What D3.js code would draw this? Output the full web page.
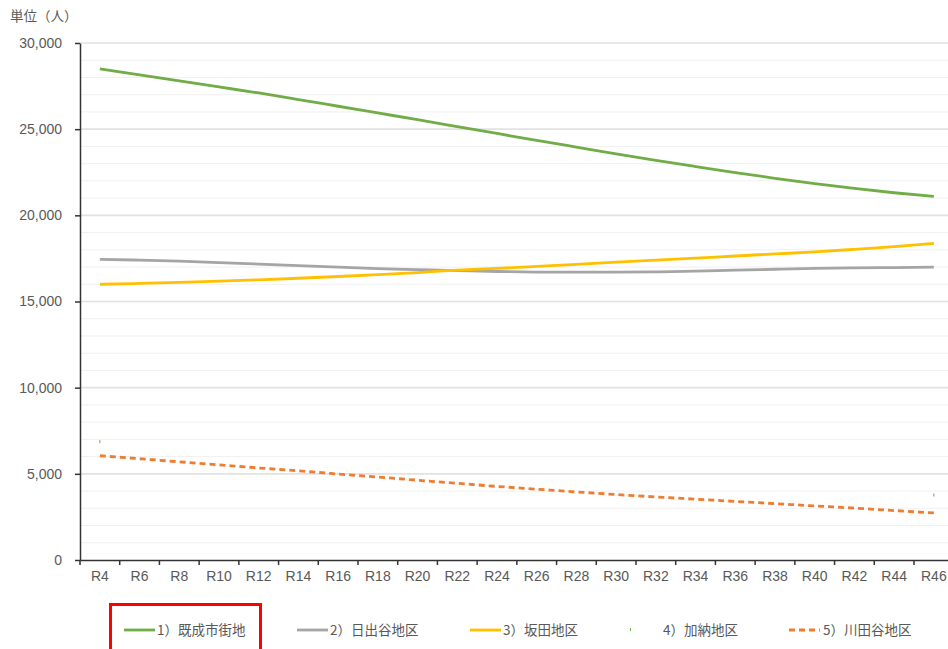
<!DOCTYPE html>
<html>
<head>
<meta charset="utf-8">
<script src="https://cdn.jsdelivr.net/npm/d3@7"></script>
<style>
  body { margin: 0; background: #fff; }
  svg { display: block; font-family: "Noto Sans CJK JP", "Noto Sans", sans-serif; }
</style>
</head>
<body>
<svg width="948" height="649"></svg>
<script>
// categories (years)
const years = ["R4","R6","R8","R10","R12","R14","R16","R18","R20","R22","R24",
               "R26","R28","R30","R32","R34","R36","R38","R40","R42","R44","R46"];

// series values (people)
const kiseiShigaichi = [28500,28150,27800,27450,27100,26720,26330,25940,25550,25150,24750,
                        24350,23960,23570,23190,22830,22480,22150,21840,21560,21310,21100];
const hidetaniChiku = [17450,17400,17340,17260,17170,17080,16990,16910,16850,16790,16740,
                       16710,16700,16700,16720,16760,16820,16870,16920,16950,16970,16990];
const sakataChiku = [16000,16050,16110,16180,16260,16350,16450,16560,16680,16820,16920,
                     17040,17160,17280,17400,17520,17640,17760,17880,18030,18190,18370];
const kanouChiku = [6870,null,null,null,null,null,null,null,null,null,null,
                    null,null,null,null,null,null,null,null,null,null,3770];
const kawadayaChiku = [6050,5875,5700,5520,5340,5170,4990,4810,4630,4450,4270,
                       4110,3950,3800,3660,3530,3400,3270,3140,3010,2870,2730];

const yTicks = [0,5000,10000,15000,20000,25000,30000];
const minorTicks = d3.range(1000, 30000, 1000).filter(v => v % 5000 !== 0);

const series = [
  {name:"1）既成市街地", values:kiseiShigaichi, color:"#70ad47", dash:null, lx:124, tx:157},
  {name:"2）日出谷地区", values:hidetaniChiku, color:"#a5a5a5", dash:null, lx:297, tx:330},
  {name:"3）坂田地区", values:sakataChiku, color:"#ffc000", dash:null, lx:470, tx:503},
  {name:"4）加納地区", values:kanouChiku, color:"#70ad47", dash:null, lx:615, tx:663, dot:true},
  {name:"5）川田谷地区", values:kawadayaChiku, color:"#ed7d31", dash:"6,4", lx:789, tx:823}
];

const svg = d3.select("svg");
const plotLeft = 80, plotTop = 43, plotBottom = 560, plotRight = 953.7;

const x = d3.scaleBand().domain(years).range([plotLeft, plotRight]);
const y = d3.scaleLinear().domain([0, 30000]).range([plotBottom, plotTop]);

// gridlines
svg.append("g").selectAll("line")
  .data(minorTicks)
  .join("line")
    .attr("x1", plotLeft).attr("x2", 948)
    .attr("y1", d => y(d)).attr("y2", d => y(d))
    .attr("stroke", "#f0f0f0").attr("stroke-width", 1);
svg.append("g").selectAll("line")
  .data(yTicks.slice(1))
  .join("line")
    .attr("x1", plotLeft).attr("x2", 948)
    .attr("y1", d => y(d)).attr("y2", d => y(d))
    .attr("stroke", "#e2e2e2").attr("stroke-width", 1.6);

// y axis
const yAxis = svg.append("g")
  .attr("transform", `translate(${plotLeft},0)`)
  .call(d3.axisLeft(y).tickValues(yTicks).tickFormat(d3.format(",d")).tickSize(5).tickPadding(13).tickSizeOuter(0));
yAxis.select(".domain").attr("stroke", "#333").attr("stroke-width", 1.5);
yAxis.selectAll(".tick line").attr("stroke", "#333").attr("stroke-width", 1.5);
yAxis.selectAll("text").attr("fill", "#595959").style("font-size", "14px");

// x axis
const xAxis = svg.append("g")
  .attr("transform", `translate(0,${plotBottom})`)
  .call(d3.axisBottom(x).tickSize(0).tickPadding(11).tickSizeOuter(0));
xAxis.select(".domain").attr("stroke", "#333").attr("stroke-width", 1.5);
xAxis.selectAll("text").attr("fill", "#595959").style("font-size", "14px");
xAxis.selectAll(".bound")
  .data(years)
  .join("line")
    .attr("class", "bound")
    .attr("x1", d => x(d)).attr("x2", d => x(d))
    .attr("y1", 0).attr("y2", 5)
    .attr("stroke", "#333").attr("stroke-width", 1.5);

// title
svg.append("text")
  .attr("x", 10).attr("y", 21)
  .attr("fill", "#595959").style("font-size", "13.5px")
  .text("単位（人）");

// lines
const line = d3.line()
  .defined(d => d != null)
  .x((d, i) => x(years[i]) + x.bandwidth() / 2)
  .y(d => y(d))
  .curve(d3.curveMonotoneX);

series.forEach(s => {
  if (s.dot) {
    svg.append("g").selectAll("rect")
      .data(s.values.map((v, i) => ({v, i})).filter(d => d.v != null))
      .join("rect")
        .attr("x", d => x(years[d.i]) + x.bandwidth() / 2 - 0.5)
        .attr("y", d => y(d.v) - 1.5)
        .attr("width", 1).attr("height", 3)
        .attr("fill", s.color);
  } else {
    svg.append("path")
      .datum(s.values)
      .attr("fill", "none")
      .attr("stroke", s.color)
      .attr("stroke-width", 2.8)
      .attr("stroke-dasharray", s.dash)
      .attr("d", line);
  }
});

// legend
const legend = svg.append("g");
const ly = 630;
series.forEach(s => {
  if (s.dot) {
    legend.append("rect")
      .attr("x", s.lx + 15).attr("y", ly - 2)
      .attr("width", 1).attr("height", 3)
      .attr("fill", s.color);
  } else {
    legend.append("line")
      .attr("x1", s.lx).attr("x2", s.lx + 31)
      .attr("y1", ly).attr("y2", ly)
      .attr("stroke", s.color).attr("stroke-width", 2.8)
      .attr("stroke-dasharray", s.dash);
  }
  legend.append("text")
    .attr("x", s.tx).attr("y", ly + 5)
    .attr("fill", "#595959").style("font-size", "13.5px")
    .text(s.name);
});

// highlight box round the first legend item
legend.append("rect")
  .attr("x", 110.5).attr("y", 604.5)
  .attr("width", 150).attr("height", 50)
  .attr("fill", "none")
  .attr("stroke", "#ff0000").attr("stroke-width", 3);
</script>
</body>
</html>
